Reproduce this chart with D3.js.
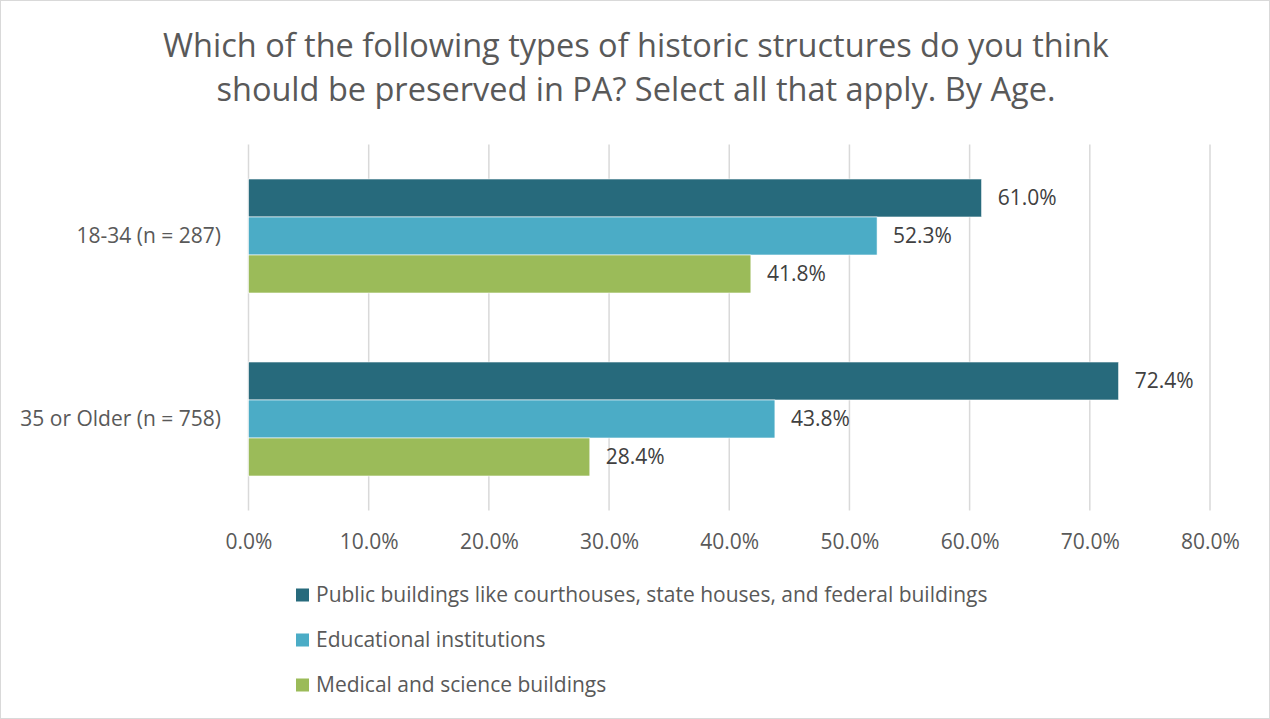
<!DOCTYPE html>
<html>
<head>
<meta charset="utf-8">
<script src="https://cdn.jsdelivr.net/npm/d3@7"></script>
<style>
  html, body { margin: 0; padding: 0; background: #fff; }
  svg { display: block; font-family: "Open Sans", "Noto Sans", sans-serif; }
</style>
</head>
<body>
<svg id="chart" width="1270" height="719"></svg>
<script>
// Survey responses by age group (percent selecting each structure type)
const categories = ["18-34 (n = 287)", "35 or Older (n = 758)"];
const seriesNames = [
  "Public buildings like courthouses, state houses, and federal buildings",
  "Educational institutions",
  "Medical and science buildings"
];
const publicBuildings = [61.0, 72.4];
const educational = [52.3, 43.8];
const medical = [41.8, 28.4];
const tickValues = [0, 10, 20, 30, 40, 50, 60, 70, 80];
const titleLines = [
  "Which of the following types of historic structures do you think",
  "should be preserved in PA? Select all that apply. By Age."
];

const seriesValues = [publicBuildings, educational, medical];
const colors = ["#276A7C", "#4BACC6", "#9BBB59"];
const FONT = "'Open Sans', 'Noto Sans', sans-serif";

const svg = d3.select("#chart");
const W = 1270, H = 719;

// outer frame
svg.append("rect")
  .attr("x", 0.5).attr("y", 0.5)
  .attr("width", W - 1).attr("height", H - 1)
  .attr("fill", "#fff").attr("stroke", "#d9d9d9");

// title
svg.append("g").selectAll("text")
  .data(titleLines)
  .join("text")
  .attr("x", 636)
  .attr("y", (d, i) => 57 + i * 44)
  .attr("text-anchor", "middle")
  .attr("font-size", 32.5)
  .attr("fill", "#595959")
  .text(d => d);

const plot = { left: 248.5, right: 1210, top: 144.5, bottom: 510.5 };

const x = d3.scaleLinear().domain([0, 80]).range([plot.left, plot.right]);
const y0 = d3.scaleBand().domain(categories).range([plot.top, plot.bottom])
  .paddingInner(0.377).paddingOuter(0.1885);
const y1 = d3.scaleBand().domain(d3.range(seriesNames.length)).range([0, y0.bandwidth()]);

// vertical gridlines
svg.append("g").selectAll("line")
  .data(tickValues)
  .join("line")
  .attr("x1", d => x(d)).attr("x2", d => x(d))
  .attr("y1", plot.top).attr("y2", plot.bottom)
  .attr("stroke", "#d9d9d9").attr("stroke-width", 1.5);

// x-axis tick labels
const xAxis = d3.axisBottom(x).tickValues(tickValues).tickSize(0).tickPadding(0)
  .tickFormat(d => d.toFixed(1) + "%");
const gx = svg.append("g").attr("transform", "translate(0,549)").call(xAxis);
gx.select(".domain").remove();
gx.selectAll("text")
  .attr("dy", 0)
  .attr("font-size", 21)
  .attr("font-family", FONT)
  .attr("fill", "#595959");

// category labels
const yAxis = d3.axisLeft(y0).tickSize(0).tickPadding(0);
const gy = svg.append("g").attr("transform", "translate(221,0)").call(yAxis);
gy.select(".domain").remove();
gy.selectAll("text")
  .attr("font-size", 21)
  .attr("font-family", FONT)
  .attr("fill", "#595959");

// bars
const rows = [];
categories.forEach((c, ci) => {
  seriesValues.forEach((vals, si) => rows.push({ cat: c, s: si, v: vals[ci] }));
});

const bars = svg.append("g");
bars.selectAll("rect")
  .data(rows)
  .join("rect")
  .attr("x", x(0))
  .attr("y", d => y0(d.cat) + y1(d.s))
  .attr("width", d => x(d.v) - x(0))
  .attr("height", y1.bandwidth())
  .attr("fill", d => colors[d.s])
  .attr("stroke", "#fff").attr("stroke-width", 0.6);

// value labels
bars.selectAll("text")
  .data(rows)
  .join("text")
  .attr("x", d => x(d.v) + 16)
  .attr("y", d => y0(d.cat) + y1(d.s) + y1.bandwidth() / 2)
  .attr("dy", "0.35em")
  .attr("font-size", 21)
  .attr("fill", "#404040")
  .text(d => d.v.toFixed(1) + "%");

// legend
const legend = svg.append("g").selectAll("g")
  .data(seriesNames)
  .join("g")
  .attr("transform", (d, i) => `translate(296,${595 + i * 45})`);
legend.append("rect")
  .attr("x", 0).attr("y", -6.5)
  .attr("width", 13).attr("height", 13)
  .attr("fill", (d, i) => colors[i]);
legend.append("text")
  .attr("x", 20).attr("y", 0)
  .attr("dy", "0.35em")
  .attr("font-size", 21)
  .attr("fill", "#595959")
  .text(d => d);
</script>
</body>
</html>
